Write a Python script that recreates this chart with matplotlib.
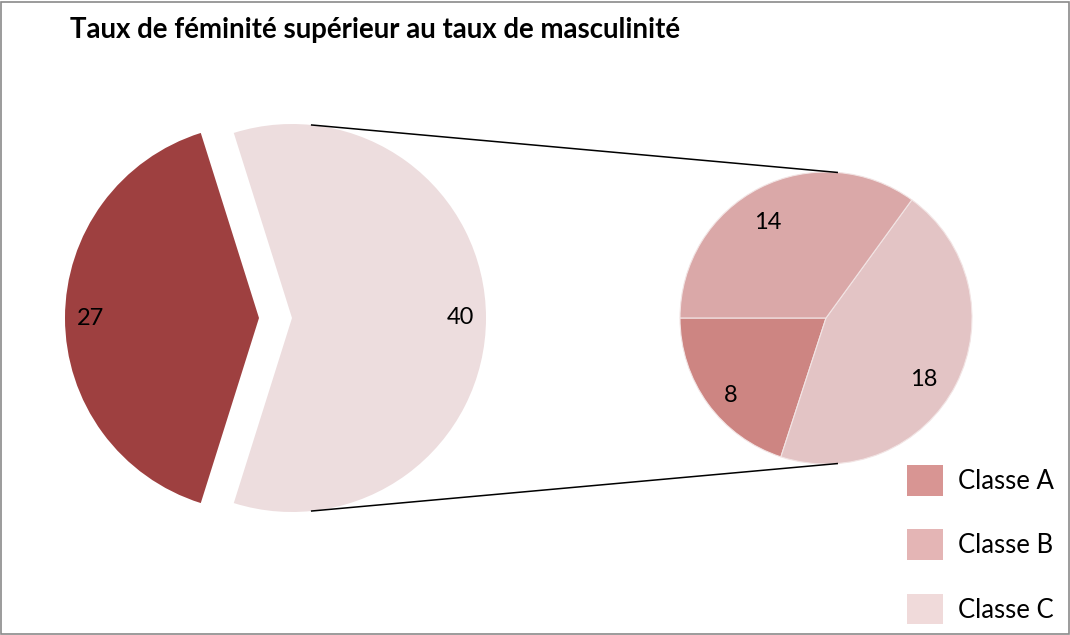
import numpy as np
import matplotlib.pyplot as plt
from matplotlib.patches import Rectangle, Patch

# Main pie: the first class on its own, the three others grouped
main_values = [40, 27]
main_colors = ['#EDDDDE', '#9E4040']

# Secondary pie: breakdown of the grouped slice
classes = ['Classe A', 'Classe C', 'Classe B']
class_values = [8, 18, 14]
class_colors = ['#CD8582', '#E3C4C5', '#DAA8A8']

legend_labels = ['Classe A', 'Classe B', 'Classe C']
legend_colors = ['#D89593', '#E4B5B5', '#F0DADA']

TITLE = 'Taux de féminité supérieur au taux de masculinité'

W, H = 1070, 635
plt.rcParams['font.family'] = ['Lato', 'DejaVu Sans']

fig = plt.figure(figsize=(W / 100, H / 100), dpi=100)
ax = fig.add_axes([0, 0, 1, 1])


def value_label(values):
    total = sum(values)
    return lambda p: f'{p * total / 100:.0f}'


# main pie, both slices pulled apart from the middle (explode is in data units)
main_c = (275.5, 317)
main_r = 194
start = -main_values[0] / sum(main_values) * 360 / 2
wedges_main, _, _ = ax.pie(main_values, colors=main_colors, center=main_c,
                           radius=main_r, startangle=start, counterclock=True,
                           explode=[16.5, 16.5], frame=True,
                           autopct=value_label(main_values), pctdistance=0.87,
                           textprops={'fontsize': 17, 'color': 'black'},
                           wedgeprops={'linewidth': 0})

# secondary pie
sub_c = (826, 317)
sub_r = 146
wedges_sub, _, sub_texts = ax.pie(
    class_values, colors=class_colors, center=sub_c, radius=sub_r,
    startangle=180, counterclock=True, frame=True,
    autopct=value_label(class_values), pctdistance=0.8,
    textprops={'fontsize': 17, 'color': 'black'},
    wedgeprops={'linewidth': 0.8, 'edgecolor': '#f2e4e4'})

# nudge the secondary labels to a best-fit spot inside each slice
label_dist = [0.83, 0.78, 0.78]
label_turn = [2, -4, 3.5]
for w, t, d, dt in zip(wedges_sub, sub_texts, label_dist, label_turn):
    mid = np.deg2rad((w.theta1 + w.theta2) / 2 + dt)
    t.set_position((sub_c[0] + d * sub_r * np.cos(mid),
                    sub_c[1] + d * sub_r * np.sin(mid) - 3))

ax.set_xlim(0, W)
ax.set_ylim(0, H)
ax.set_aspect('equal')
ax.axis('off')

# connector lines between the grouped slice and the secondary pie
lc = wedges_main[0].center
a1 = np.deg2rad(84.4)
a2 = np.deg2rad(85.3)
for s in (1, -1):
    x0 = lc[0] + main_r * np.cos(a1)
    y0 = lc[1] + s * main_r * np.sin(a1)
    x1 = sub_c[0] + sub_r * np.cos(a2)
    y1 = sub_c[1] + s * sub_r * np.sin(a2)
    ax.plot([x0, x1], [y0, y1], color='black', lw=1.1, solid_capstyle='butt')

# legend
handles = [Patch(facecolor=c, edgecolor='none') for c in legend_colors]
ax.legend(handles, legend_labels, loc='upper left', frameon=False,
          bbox_to_anchor=(907 / W, 1 - 465 / H), bbox_transform=fig.transFigure,
          fontsize=18.5, handlelength=1.4, handleheight=1.45,
          labelspacing=1.32, handletextpad=0.6, borderpad=0, borderaxespad=0)

fig.text(70 / W, 1 - 30 / H, TITLE, fontsize=19.9, fontweight='bold',
         va='center', ha='left')

# outer frame
fig.patches.append(Rectangle((1.5 / W, 1.5 / H), 1 - 3 / W, 1 - 3 / H,
                             transform=fig.transFigure, fill=False,
                             edgecolor='#8a8a8a', lw=1.2))

fig.savefig('out.png', dpi=100)
